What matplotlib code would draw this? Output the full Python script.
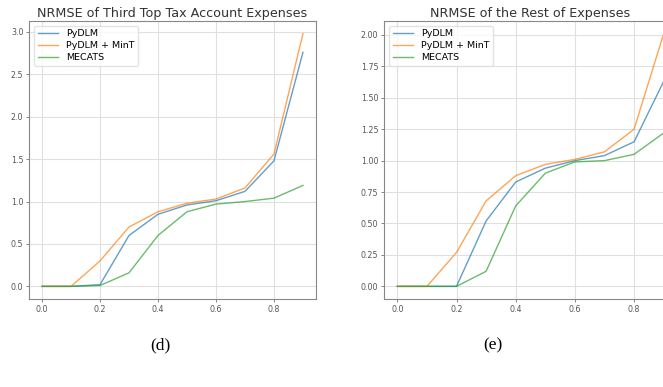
import numpy as np
import matplotlib.pyplot as plt

quantiles = [0.0, 0.1, 0.2, 0.3, 0.4, 0.5, 0.6, 0.7, 0.8, 0.9]

# (d) third top tax account expenses
d_pydlm = [0, 0, 0.02, 0.60, 0.85, 0.96, 1.01, 1.12, 1.48, 2.76]
d_mint = [0, 0, 0.30, 0.70, 0.88, 0.98, 1.03, 1.16, 1.56, 2.98]
d_mecats = [0, 0, 0.01, 0.16, 0.60, 0.88, 0.97, 1.00, 1.04, 1.19]

# (e) rest of expenses
e_pydlm = [0, 0, 0, 0.52, 0.83, 0.94, 1.00, 1.04, 1.15, 1.63]
e_mint = [0, 0, 0.27, 0.68, 0.88, 0.97, 1.01, 1.07, 1.25, 2.01]
e_mecats = [0, 0, 0, 0.12, 0.64, 0.90, 0.99, 1.00, 1.05, 1.22]

titles = ["NRMSE of Third Top Tax Account Expenses", "NRMSE of the Rest of Expenses"]
captions = ["(d)", "(e)"]
labels = ["PyDLM", "PyDLM + MinT", "MECATS"]
colors = ["#1f77b4", "#ff7f0e", "#2ca02c"]

W, H = 663, 387
fig = plt.figure(figsize=(W / 100, H / 100), dpi=100)

# axes boxes in pixels: left, top, right, bottom
boxes = [(29, 21, 316, 299), (384, 21, 677, 299)]
panels = [(d_pydlm, d_mint, d_mecats), (e_pydlm, e_mint, e_mecats)]
yticks = [np.arange(0, 3.01, 0.5), np.arange(0, 2.01, 0.25)]
yfmt = ["{:.1f}", "{:.2f}"]
cap_x = [160, 493]

for i in range(2):
    l, t, r, b = boxes[i]
    ax = fig.add_axes([l / W, 1 - b / H, (r - l) / W, (b - t) / H])
    for series, lab, c in zip(panels[i], labels, colors):
        ax.plot(quantiles, series, color=c, lw=1.0, alpha=0.7, label=lab)
    ax.grid(True, color="#e0e0e0", lw=0.8)
    ax.set_axisbelow(True)
    ax.set_xticks([0.0, 0.2, 0.4, 0.6, 0.8])
    ax.set_xticklabels(["0.0", "0.2", "0.4", "0.6", "0.8"])
    ax.set_yticks(yticks[i])
    ax.set_yticklabels([yfmt[i].format(v) for v in yticks[i]])
    ax.tick_params(labelsize=5.7, length=2, width=0.5, colors="#555555", pad=2)
    for s in ax.spines.values():
        s.set_color("#888888")
        s.set_linewidth(0.8)
    ax.set_title(titles[i], fontsize=9.2, color="#333333", pad=3)
    ax.legend(loc="upper left", fontsize=6.8, frameon=True, framealpha=0.8,
              edgecolor="#dddddd", handlelength=2.2, borderpad=0.4,
              labelspacing=0.3)
    fig.text(cap_x[i] / W, 1 - 345 / H, captions[i], family="Liberation Serif",
             fontsize=12.5, ha="center", va="center")

fig.savefig("out.png", dpi=100)
